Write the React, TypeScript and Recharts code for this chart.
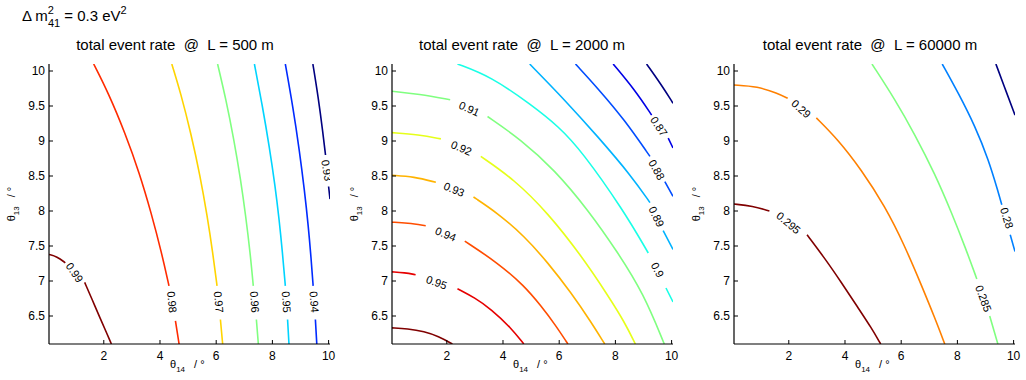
import React from 'react';
import { ComposedChart, Line, Scatter, XAxis, YAxis } from 'recharts';

type Pt = [number, number] | null;
type Label = { x: number; y: number; text: string; angle: number };

const X_TICKS = [2, 4, 6, 8, 10];
const Y_TICKS = [6.5, 7, 7.5, 8, 8.5, 9, 9.5, 10];
const X_DOMAIN: [number, number] = [0.05, 10.05];
const Y_DOMAIN: [number, number] = [6.1, 10.1];

// L = 500 m, contour levels 0.99 ... 0.93 (null = gap for the label)
const c500_099: Pt[] = [[0.05, 7.38], [0.33, 7.35], [0.63, 7.26], null, [1.32, 6.98], [1.58, 6.74], [1.89, 6.45], [2.1, 6.26], [2.27, 6.1]];
const c500_098: Pt[] = [[1.64, 10.1], [2.17, 9.68], [2.76, 9.11], [3.27, 8.54], [3.69, 7.97], [4.06, 7.4], [4.32, 6.93], null, [4.55, 6.43], [4.68, 6.1]];
const c500_097: Pt[] = [[4.42, 10.1], [4.74, 9.68], [5.1, 9.11], [5.43, 8.5], [5.68, 7.93], [5.88, 7.4], [6.03, 6.93], null, [6.15, 6.45], [6.23, 6.1]];
const c500_096: Pt[] = [[6.05, 10.1], [6.35, 9.59], [6.63, 9.02], [6.87, 8.45], [7.05, 7.93], [7.21, 7.4], [7.32, 6.93], null, [7.43, 6.45], [7.5, 6.1]];
const c500_095: Pt[] = [[7.36, 10.1], [7.65, 9.49], [7.89, 8.92], [8.1, 8.35], [8.24, 7.88], [8.36, 7.4], [8.46, 6.93], null, [8.54, 6.45], [8.59, 6.1]];
const c500_094: Pt[] = [[8.46, 10.1], [8.73, 9.49], [8.96, 8.87], [9.14, 8.3], [9.28, 7.78], [9.38, 7.31], [9.45, 6.93], null, [9.53, 6.45], [9.58, 6.1]];
const c500_093: Pt[] = [[9.44, 10.1], [9.63, 9.63], [9.8, 9.11], [9.89, 8.8], null, [10.0, 8.35], [10.05, 8.17]];
const lines500 = [c500_099, c500_098, c500_097, c500_096, c500_095, c500_094, c500_093];
const colors500 = ['#800000', '#ff2b00', '#ffd400', '#80ff80', '#00d4ff', '#002bff', '#000080'];
const labels500: Label[] = [
  { x: 0.96, y: 7.12, text: '0.99', angle: 55 },
  { x: 4.43, y: 6.7, text: '0.98', angle: 84 },
  { x: 6.09, y: 6.7, text: '0.97', angle: 85 },
  { x: 7.37, y: 6.7, text: '0.96', angle: 86 },
  { x: 8.5, y: 6.7, text: '0.95', angle: 86 },
  { x: 9.49, y: 6.7, text: '0.94', angle: 86 },
  { x: 9.94, y: 8.58, text: '0.93', angle: 81 },
];

// L = 2000 m, contour levels 0.96 ... 0.86
const c2000_096: Pt[] = [[0.05, 6.33], [0.6, 6.32], [1.2, 6.28], [1.7, 6.21], [2.2, 6.1]];
const c2000_095: Pt[] = [[0.05, 7.13], [0.5, 7.12], [0.89, 7.09], null, [2.38, 6.89], [3.0, 6.76], [3.57, 6.6], [4.29, 6.33], [4.74, 6.1]];
const c2000_094: Pt[] = [[0.05, 7.84], [0.6, 7.83], [1.25, 7.79], null, [2.64, 7.57], [3.81, 7.26], [4.76, 6.93], [5.36, 6.64], [5.85, 6.38], [6.31, 6.1]];
const c2000_093: Pt[] = [[0.05, 8.51], [0.83, 8.49], [1.61, 8.41], null, [2.95, 8.2], [3.81, 7.97], [4.76, 7.64], [5.6, 7.26], [6.43, 6.83], [7.14, 6.41], [7.62, 6.1]];
const c2000_092: Pt[] = [[0.05, 9.12], [1.0, 9.09], [1.79, 9.03], null, [3.21, 8.78], [4.4, 8.45], [5.6, 7.97], [6.79, 7.36], [7.74, 6.79], [8.33, 6.41], [8.71, 6.1]];
const c2000_091: Pt[] = [[0.05, 9.71], [1.01, 9.67], [2.12, 9.59], null, [3.45, 9.35], [4.64, 9.02], [5.83, 8.59], [7.02, 8.02], [8.1, 7.4], [9.0, 6.82], [9.74, 6.1]];
const c2000_090: Pt[] = [[2.38, 10.1], [3.57, 9.92], [5.0, 9.52], [6.0, 9.2], [6.79, 8.86], [8.27, 8.02], [9.17, 7.4], null, [9.8, 6.9], [10.05, 6.7]];
const c2000_089: Pt[] = [[4.95, 10.1], [6.19, 9.59], [7.38, 9.06], [8.57, 8.5], [9.23, 8.12], null, [9.7, 7.72], [10.05, 7.45]];
const c2000_088: Pt[] = [[6.58, 10.1], [7.38, 9.75], [8.33, 9.3], [9.23, 8.78], null, [9.76, 8.42], [10.05, 8.21]];
const c2000_087: Pt[] = [[7.92, 10.1], [8.69, 9.73], [9.29, 9.37], null, [9.88, 9.04], [10.05, 8.9]];
const c2000_086: Pt[] = [[9.11, 10.1], [9.64, 9.8], [10.05, 9.54]];
const lines2000 = [c2000_096, c2000_095, c2000_094, c2000_093, c2000_092, c2000_091, c2000_090, c2000_089, c2000_088, c2000_087, c2000_086];
const colors2000 = ['#800000', '#e60000', '#ff4d00', '#ffb300', '#e6ff1a', '#80ff80', '#1affe6', '#00b3ff', '#004dff', '#0000e6', '#000080'];
const labels2000: Label[] = [
  { x: 1.64, y: 6.98, text: '0.95', angle: 20 },
  { x: 1.96, y: 7.67, text: '0.94', angle: 22 },
  { x: 2.26, y: 8.31, text: '0.93', angle: 22 },
  { x: 2.52, y: 8.9, text: '0.92', angle: 23 },
  { x: 2.8, y: 9.46, text: '0.91', angle: 24 },
  { x: 9.5, y: 7.16, text: '0.9', angle: 62 },
  { x: 9.46, y: 7.92, text: '0.89', angle: 64 },
  { x: 9.47, y: 8.59, text: '0.88', angle: 60 },
  { x: 9.55, y: 9.21, text: '0.87', angle: 56 },
];

// L = 60000 m, contour levels 0.295 ... 0.275
const c60000_0295: Pt[] = [[0.05, 8.1], [0.71, 8.07], [1.31, 8.0], null, [2.65, 7.66], [3.27, 7.33], [3.87, 6.98], [4.46, 6.62], [4.94, 6.33], [5.27, 6.1]];
const c60000_029: Pt[] = [[0.05, 9.8], [0.89, 9.78], [1.6, 9.68], [1.96, 9.61], null, [2.98, 9.33], [3.75, 9.02], [4.58, 8.59], [5.42, 8.07], [6.13, 7.5], [6.73, 6.93], [7.2, 6.47], [7.55, 6.1]];
const c60000_0285: Pt[] = [[4.96, 10.1], [5.77, 9.6], [6.49, 9.09], [7.2, 8.53], [7.8, 7.97], [8.3, 7.46], [8.69, 7.03], null, [9.15, 6.5], [9.44, 6.1]];
const c60000_028: Pt[] = [[7.46, 10.1], [8.04, 9.68], [8.63, 9.21], [9.11, 8.73], [9.46, 8.26], [9.58, 8.09], null, [9.88, 7.66], [10.05, 7.42]];
const c60000_0275: Pt[] = [[9.37, 10.1], [9.76, 9.68], [10.05, 9.37]];
const lines60000 = [c60000_0295, c60000_029, c60000_0285, c60000_028, c60000_0275];
const colors60000 = ['#800000', '#ff8000', '#80ff80', '#0080ff', '#000080'];
const labels60000: Label[] = [
  { x: 2.44, y: 9.46, text: '0.29', angle: 42 },
  { x: 1.99, y: 7.83, text: '0.295', angle: 40 },
  { x: 8.93, y: 6.75, text: '0.285', angle: 70 },
  { x: 9.76, y: 7.9, text: '0.28', angle: 73 },
];

const FONT = '"Liberation Sans", Arial, Helvetica, sans-serif';
const PLOT_W = 281;
const Y_AXIS_W = 49;
const TOP = 64;
const AXIS_H = 36;
const TICK = 4;
const FRAME = { stroke: '#000', strokeWidth: 1.2 };

const toRows = (pts: Pt[]) => {
  let lastX = 0;
  return pts.map((p) => {
    if (!p) return { x: lastX, y: null };
    lastX = p[0];
    return { x: p[0], y: p[1] };
  });
};

const BottomTick = ({ x, y, payload }: any) => (
  <g>
    <line x1={x} x2={x} y1={y} y2={y - TICK} stroke="#000" />
    <text x={x} y={y + 16} textAnchor="middle" fontSize={12} fontFamily={FONT} fill="#000">{payload.value}</text>
  </g>
);
const TopTick = ({ x, y }: any) => <line x1={x} x2={x} y1={y} y2={y + TICK} stroke="#000" />;
const LeftTick = ({ x, y, payload }: any) => (
  <g>
    <line x1={x} x2={x + TICK} y1={y} y2={y} stroke="#000" />
    <text x={x - 4} y={y} dy="0.36em" textAnchor="end" fontSize={12} fontFamily={FONT} fill="#000">{payload.value}</text>
  </g>
);
const RightTick = ({ x, y }: any) => <line x1={x} x2={x - TICK} y1={y} y2={y} stroke="#000" />;

const LabelShape = (props: any) => {
  const { cx, cy, payload } = props;
  return (
    <text x={cx} y={cy} dy="0.36em" textAnchor="middle" fontSize={11} fontFamily={FONT} fill="#000"
      transform={`rotate(${payload.angle} ${cx} ${cy})`}>
      {payload.text}
    </text>
  );
};

function Panel({ left, lines, colors, labels }: { left: number; lines: Pt[][]; colors: string[]; labels: Label[] }) {
  return (
    <div style={{ position: 'absolute', left: left - Y_AXIS_W, top: 0 }}>
      <ComposedChart width={Y_AXIS_W + PLOT_W + 12} height={380} margin={{ top: TOP, right: 12, bottom: 0, left: 0 }}>
        <XAxis xAxisId="b" type="number" dataKey="x" domain={X_DOMAIN} ticks={X_TICKS} allowDataOverflow
          height={AXIS_H} axisLine={FRAME} tickLine={false} tickSize={0} tickMargin={0} tick={<BottomTick />} interval={0} />
        <XAxis xAxisId="t" orientation="top" type="number" dataKey="x" domain={X_DOMAIN} ticks={X_TICKS} allowDataOverflow
          height={0} axisLine={FRAME} tickLine={false} tickSize={0} tickMargin={0} tick={<TopTick />} interval={0} />
        <YAxis yAxisId="l" type="number" dataKey="y" domain={Y_DOMAIN} ticks={Y_TICKS} allowDataOverflow
          width={Y_AXIS_W} axisLine={FRAME} tickLine={false} tickSize={0} tickMargin={0} tick={<LeftTick />} interval={0} />
        <YAxis yAxisId="r" orientation="right" type="number" dataKey="y" domain={Y_DOMAIN} ticks={Y_TICKS} allowDataOverflow
          width={0} axisLine={FRAME} tickLine={false} tickSize={0} tickMargin={0} tick={<RightTick />} interval={0} />
        {lines.map((pts, i) => (
          <Line key={i} xAxisId="b" yAxisId="l" data={toRows(pts)} dataKey="y" type="basis" stroke={colors[i]}
            strokeWidth={1.6} dot={false} activeDot={false} connectNulls={false} isAnimationActive={false} />
        ))}
        <Scatter xAxisId="b" yAxisId="l" data={labels} dataKey="y" shape={<LabelShape />} isAnimationActive={false} />
      </ComposedChart>
    </div>
  );
}

const Theta = ({ sub }: { sub: string }) => (
  <span style={{ whiteSpace: 'pre' }}>
    θ<span style={{ fontSize: 8, position: 'relative', top: 4 }}>{sub}</span>
    <span style={{ marginLeft: 9 }}>/ °</span>
  </span>
);

const PLOTS = [49, 392, 734];
const TITLES = ['total event rate  @  L = 500 m', 'total event rate  @  L = 2000 m', 'total event rate  @  L = 60000 m'];
const TITLE_CX = [175, 522, 870];

export default function App() {
  return (
    <div style={{ position: 'absolute', left: 0, top: 0, width: 1026, height: 380, background: '#fff', fontFamily: FONT, color: '#000' }}>
      <svg width={300} height={34} style={{ position: 'absolute', left: 0, top: 0 }}>
        <text x={22} y={21} fontSize={15} fontFamily={FONT} fill="#000">
          Δ m
          <tspan dy={-7} fontSize={11}>2</tspan>
          <tspan dx={-6.1} dy={13} fontSize={11}>41</tspan>
          <tspan dy={-6} fontSize={15}>{' = 0.3 eV'}</tspan>
          <tspan dy={-7} fontSize={11}>2</tspan>
        </text>
      </svg>
      {TITLES.map((t, i) => (
        <div key={t} style={{ position: 'absolute', left: TITLE_CX[i] - 150, width: 300, top: 36, textAlign: 'center', fontSize: 15, lineHeight: '18px', whiteSpace: 'pre' }}>{t}</div>
      ))}
      <Panel left={PLOTS[0]} lines={lines500} colors={colors500} labels={labels500} />
      <Panel left={PLOTS[1]} lines={lines2000} colors={colors2000} labels={labels2000} />
      <Panel left={PLOTS[2]} lines={lines60000} colors={colors60000} labels={labels60000} />
      {PLOTS.map((p) => (
        <div key={'x' + p} style={{ position: 'absolute', left: p + 121, top: 359, fontSize: 11, lineHeight: '11px' }}>
          <Theta sub="14" />
        </div>
      ))}
      {PLOTS.map((p) => (
        <div key={'y' + p} style={{ position: 'absolute', left: p - 37 - 30, top: 198, width: 60, textAlign: 'center', fontSize: 11, lineHeight: '11px', transform: 'rotate(-90deg)' }}>
          <Theta sub="13" />
        </div>
      ))}
    </div>
  );
}
